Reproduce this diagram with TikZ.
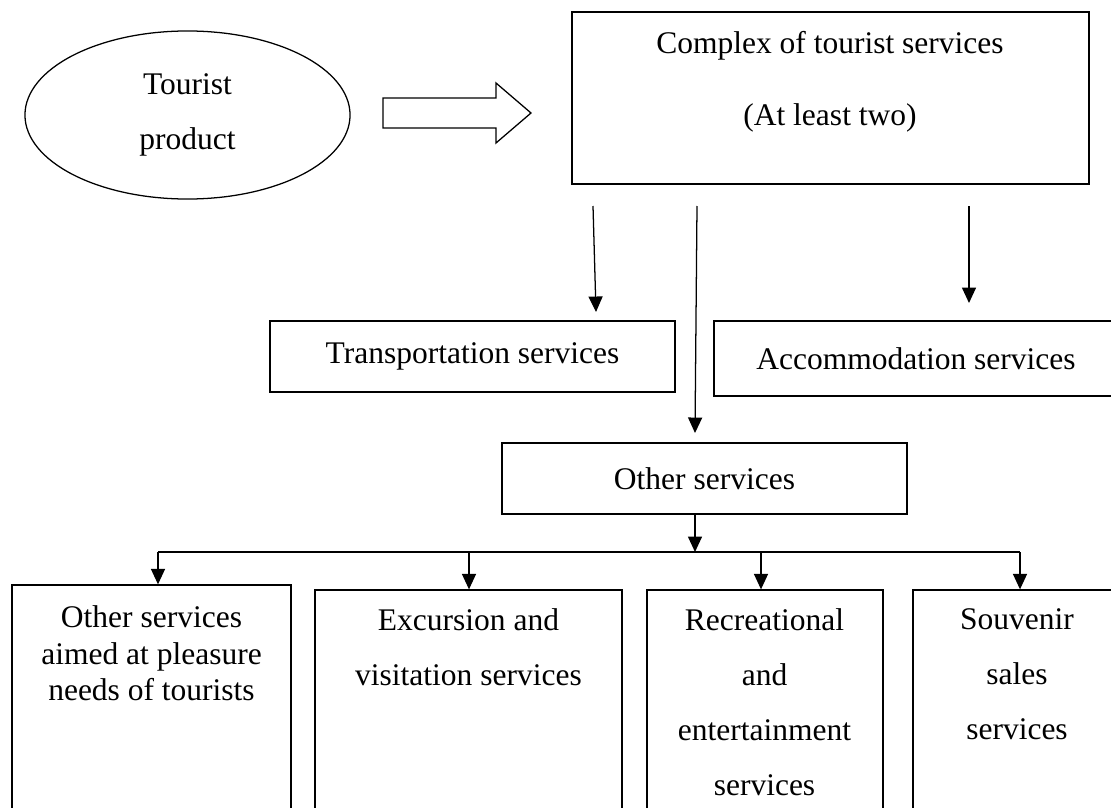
\documentclass[tikz,border=0pt]{standalone}
\usepackage{fontspec}
\setmainfont{Liberation Serif}
\usetikzlibrary{arrows.meta,shapes.geometric}

\tikzset{
  box/.style={draw, line width=0.9pt, inner sep=0pt},
  arr/.style={line width=0.9pt, -{Triangle[length=11pt,width=10pt]}},
  txt/.style={align=center, inner sep=0pt, font=\fontsize{22.4}{39}\selectfont}
}

\begin{document}
\begin{tikzpicture}[x=0.025cm,y=-0.025cm]
\useasboundingbox (0,0) rectangle (1111,808);
\clip (0,0) rectangle (1111,808);

% top row
\node[box, ellipse, minimum width=8.125cm, minimum height=4.2cm, txt] (prod) at (187.5,115) {Tourist\\product};
\draw[line width=0.9pt] (383,98) -- (496,98) -- (496,83) -- (531,113) -- (496,143) -- (496,128) -- (383,128) -- cycle;

\node[box, minimum width=12.925cm, minimum height=4.3cm] (cplx) at (830.5,98) {};
\node[txt, font=\fontsize{22.4}{51.2}\selectfont, anchor=north] (cplxt) at (830,31.5) {Complex of tourist services\\(At least two)};

% middle
\node[box, txt, minimum width=10.125cm, minimum height=1.775cm] (trans) at (472.5,356.5) {Transportation services};
\node[box, txt, minimum width=10.1cm, minimum height=1.875cm] (accom) at (916,358.5) {Accommodation services};
\node[box, txt, minimum width=10.125cm, minimum height=1.775cm] (other) at (704.5,478.5) {Other services};

\coordinate (t1s) at (593,206); \coordinate (t1e) at (596,312);
\coordinate (t2s) at (697,206); \coordinate (t2e) at (695,433);
\coordinate (t3s) at (969,206); \coordinate (t3e) at (969,303);
\draw[arr] (t1s) -- (t1e);
\draw[arr] (t2s) -- (t2e);
\draw[arr] (t3s) -- (t3e);

% bottom row
\foreach \n/\x/\y/\w/\h in {b1/151.5/707.5/6.975/6.125, b2/468.5/710/7.675/6, b3/765/710/5.9/6, b4/1017/710/5.2/6}{
\node[box, minimum width=\w cm, minimum height=\h cm] (\n) at (\x,\y) {};}

\node[txt, font=\fontsize{22.4}{25.9}\selectfont, anchor=north] (b1t) at (151.5,605.5) {Other services\\aimed at pleasure\\needs of tourists};
\node[txt, anchor=north] (b2t) at (468.5,608.5) {Excursion and\\visitation services};
\node[txt, anchor=north] (b3t) at (764.5,608.5) {Recreational\\and\\entertainment\\services};
\node[txt, anchor=north] (b4t) at (1017,608.5) {Souvenir\\sales\\services};

\coordinate (bus) at (695,552);
\draw[arr] (other.south -| bus) -- (bus);
\draw[line width=0.9pt] (158,552) -- (1020,552);
\foreach \n/\x in {b1/158,b2/469,b3/761,b4/1020}{
\draw[arr] (\x,552) coordinate (d\n) -- (d\n |- \n.north);}

\end{tikzpicture}
\end{document}
